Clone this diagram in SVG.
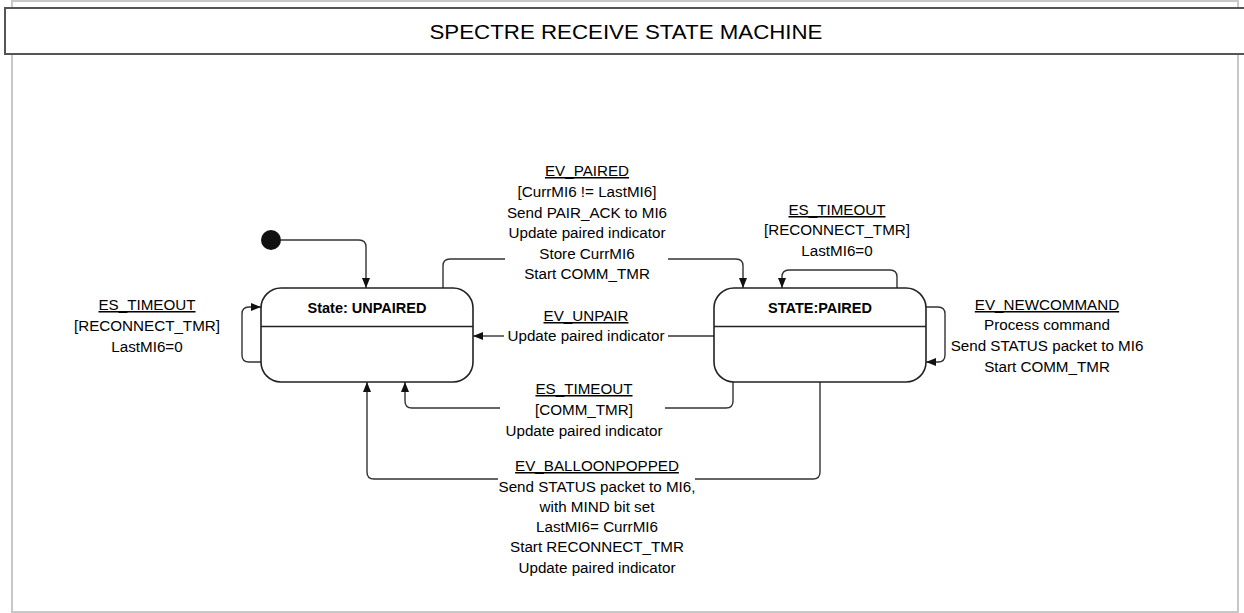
<svg xmlns="http://www.w3.org/2000/svg" width="1244" height="613" viewBox="0 0 1244 613">
<style>
  .frame{fill:#fff;stroke:#c8c8c8;stroke-width:2}
  .titlebox{fill:#fff;stroke:#555;stroke-width:2}
  .title{font-family:"Liberation Sans",Arial,sans-serif;font-size:20px;fill:#000;text-anchor:middle}
  .state{fill:#fff;stroke:#222;stroke-width:1.6}
  .div{stroke:#222;stroke-width:1.6}
  .sname{font-family:"Liberation Sans",Arial,sans-serif;font-size:14.5px;font-weight:bold;fill:#000;text-anchor:middle}
  .lbl{font-family:"Liberation Sans",Arial,sans-serif;font-size:15.2px;fill:#000;text-anchor:middle}
  .ev{text-decoration:underline}
  .conn{fill:none;stroke:#333;stroke-width:1.4}
</style>
<defs>
  <marker id="arr" viewBox="0 0 10 8" refX="10" refY="4" markerWidth="10" markerHeight="8" markerUnits="userSpaceOnUse" orient="auto">
    <path d="M0,0 L10,4 L0,8 z" fill="#111"/>
  </marker>
</defs>
<rect class="frame" x="12" y="1" width="1226" height="611"/>
<g id="title">
  <rect class="titlebox" x="5" y="8" width="1250" height="46"/>
  <text class="title" x="626" y="39" textLength="393" lengthAdjust="spacingAndGlyphs">SPECTRE RECEIVE STATE MACHINE</text>
</g>
<g id="connectors">
  <path class="conn" d="M281,240 H359 Q366,240 366,247 V288" marker-end="url(#arr)"/>
  <path class="conn" d="M261,362 H249 Q242,362 242,355 V314 Q242,307 249,307 H261" marker-end="url(#arr)"/>
  <path class="conn" d="M443,288 V266 Q443,259 450,259 H505"/>
  <path class="conn" d="M668,259 H736 Q743,259 743,266 V288" marker-end="url(#arr)"/>
  <path class="conn" d="M897,288 V277 Q897,270 890,270 H789 Q782,270 782,277 V288" marker-end="url(#arr)"/>
  <path class="conn" d="M926,307 H938 Q945,307 945,314 V355 Q945,362 938,362 H926" marker-end="url(#arr)"/>
  <path class="conn" d="M714,336 H668"/>
  <path class="conn" d="M504,336 H473" marker-end="url(#arr)"/>
  <path class="conn" d="M733,382 V401 Q733,408 726,408 H665"/>
  <path class="conn" d="M500,408 H412 Q405,408 405,401 V382" marker-end="url(#arr)"/>
  <path class="conn" d="M820,382 V472 Q820,479 813,479 H695"/>
  <path class="conn" d="M498,479 H374 Q367,479 367,472 V382" marker-end="url(#arr)"/>
</g>
<g id="initial">
  <circle cx="271" cy="240" r="10" fill="#111"/>
</g>
<g id="unpaired">
  <rect class="state" x="261" y="288" width="212" height="94" rx="20" ry="20"/>
  <line class="div" x1="261" y1="326.5" x2="473" y2="326.5"/>
  <text class="sname" x="367" y="313">State: UNPAIRED</text>
</g>
<g id="paired">
  <rect class="state" x="714" y="288" width="212" height="94" rx="20" ry="20"/>
  <line class="div" x1="714" y1="326.5" x2="926" y2="326.5"/>
  <text class="sname" x="820" y="313">STATE:PAIRED</text>
</g>
<g id="label-unpaired-timeout">
  <text x="147" y="310" class="lbl ev">ES_TIMEOUT</text>
  <text x="147" y="331" class="lbl">[RECONNECT_TMR]</text>
  <text x="147" y="352" class="lbl">LastMI6=0</text>
</g>
<g id="label-paired">
  <text x="587" y="176" class="lbl ev">EV_PAIRED</text>
  <text x="587" y="196.5" class="lbl">[CurrMI6 != LastMI6]</text>
  <text x="587" y="217.5" class="lbl">Send PAIR_ACK to MI6</text>
  <text x="587" y="238" class="lbl">Update paired indicator</text>
  <text x="587" y="258.5" class="lbl">Store CurrMI6</text>
  <text x="587" y="279" class="lbl">Start COMM_TMR</text>
</g>
<g id="label-paired-timeout">
  <text x="837" y="215" class="lbl ev">ES_TIMEOUT</text>
  <text x="837" y="235" class="lbl">[RECONNECT_TMR]</text>
  <text x="837" y="255.5" class="lbl">LastMI6=0</text>
</g>
<g id="label-newcommand">
  <text x="1047" y="310" class="lbl ev">EV_NEWCOMMAND</text>
  <text x="1047" y="330" class="lbl">Process command</text>
  <text x="1047" y="351" class="lbl">Send STATUS packet to MI6</text>
  <text x="1047" y="372" class="lbl">Start COMM_TMR</text>
</g>
<g id="label-unpair">
  <text x="586" y="321" class="lbl ev">EV_UNPAIR</text>
  <text x="586" y="341" class="lbl">Update paired indicator</text>
</g>
<g id="label-comm-timeout">
  <text x="584" y="394" class="lbl ev">ES_TIMEOUT</text>
  <text x="584" y="415" class="lbl">[COMM_TMR]</text>
  <text x="584" y="436" class="lbl">Update paired indicator</text>
</g>
<g id="label-balloon">
  <text x="597" y="471" class="lbl ev">EV_BALLOONPOPPED</text>
  <text x="597" y="491.5" class="lbl">Send STATUS packet to MI6,</text>
  <text x="597" y="512" class="lbl">with MIND bit set</text>
  <text x="597" y="532" class="lbl">LastMI6= CurrMI6</text>
  <text x="597" y="552" class="lbl">Start RECONNECT_TMR</text>
  <text x="597" y="573" class="lbl">Update paired indicator</text>
</g>
</svg>
